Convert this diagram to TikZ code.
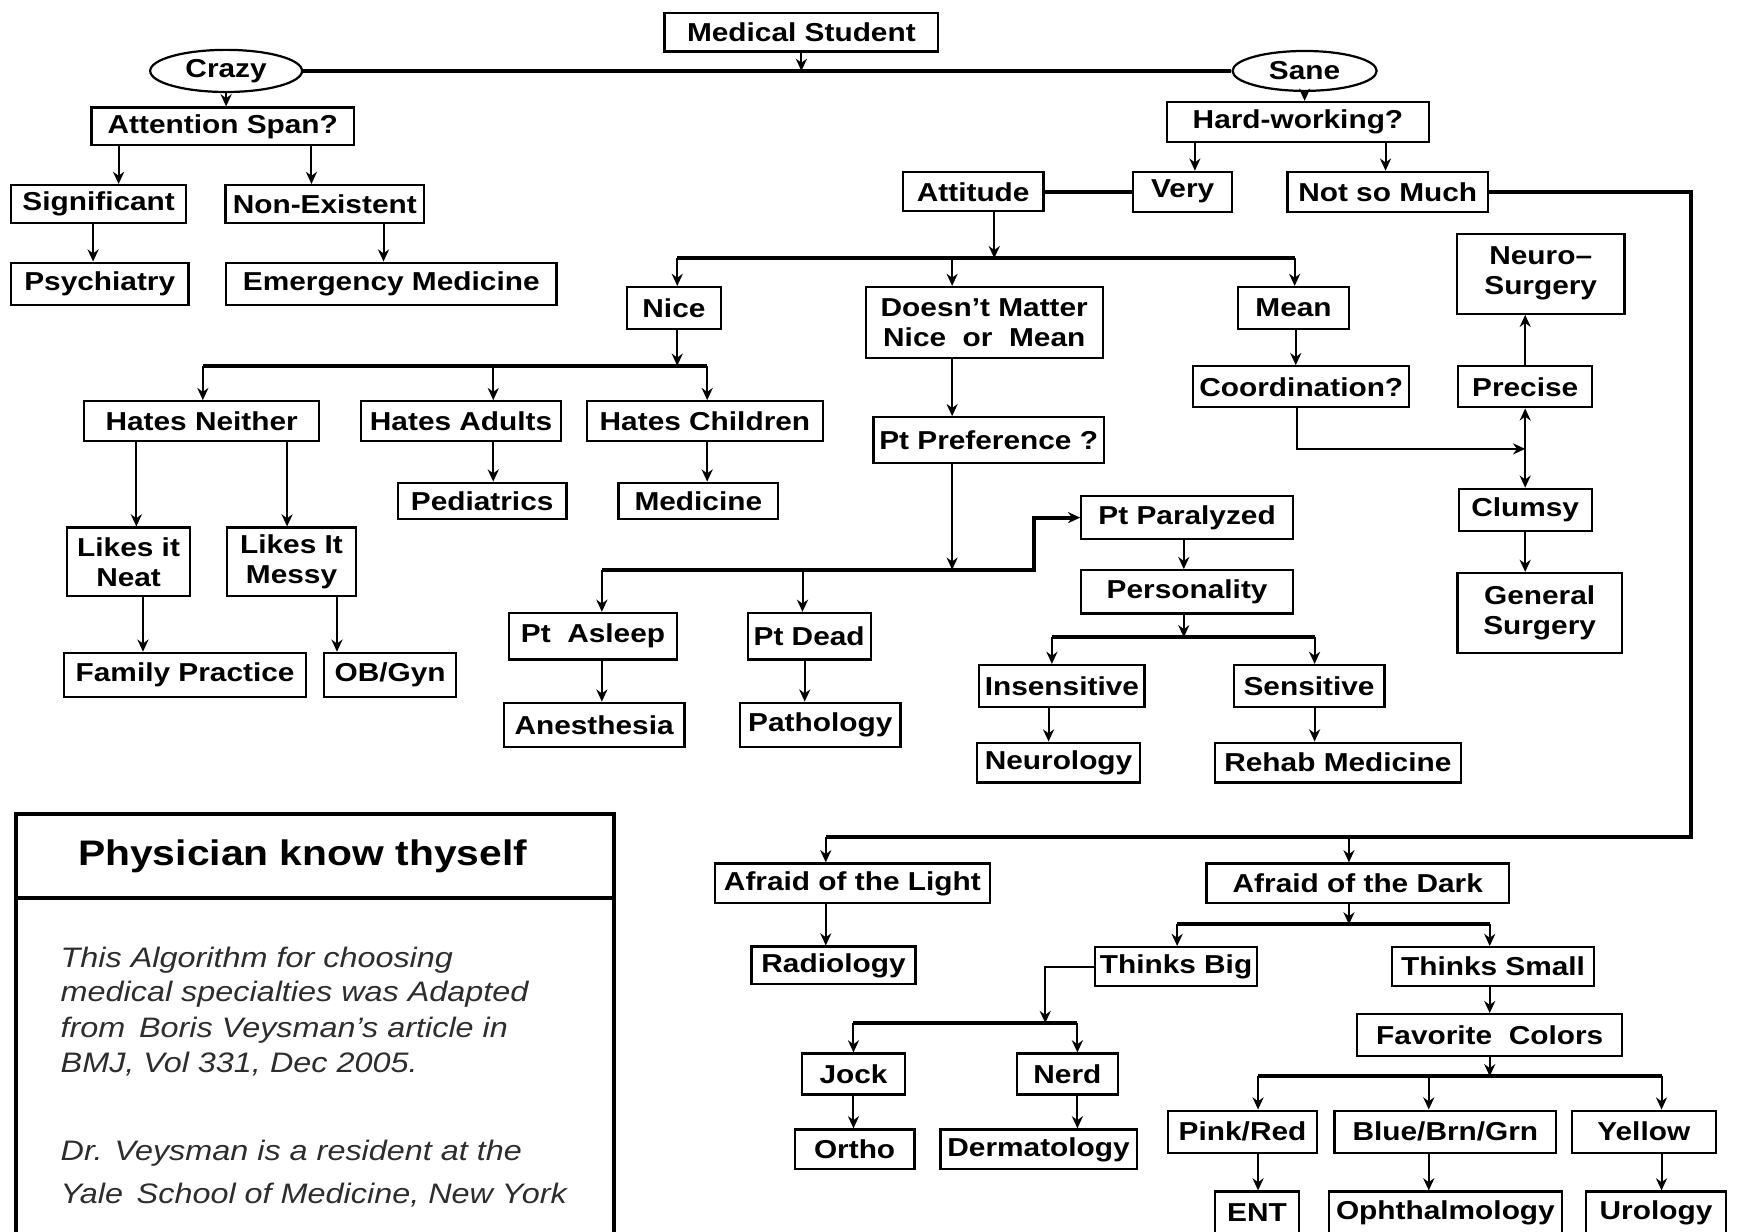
\documentclass[tikz,border=0pt]{standalone}
\usepackage{fontspec}
\setmainfont{Liberation Sans}[FakeStretch=1.15]
\usetikzlibrary{arrows.meta,shapes.geometric}

\definecolor{notegray}{RGB}{45,45,45}

\tikzset{every picture/.style={line width=0.75pt}}
\tikzset{
  box/.style={draw, line width=1pt, inner sep=0pt, align=center,
    font=\fontsize{11.7}{13.5}\selectfont\bfseries},
  oval/.style={box, ellipse},
  wh/.style 2 args={minimum width=#1*0.5pt, minimum height=#2*0.5pt},
  arr/.style={->, line width=0.9pt},
  bus/.style={line width=1.8pt},
  busarr/.style={->, line width=1.8pt},
  note/.style={anchor=west, inner sep=0pt, text=notegray,
    font=\fontsize{12.7}{15}\selectfont\itshape},
}

\begin{document}
\begin{tikzpicture}[x=0.5pt,y=0.5pt,yscale=-1,xscale=1,>={Stealth[length=5.5pt,width=5pt]}]
\useasboundingbox (0,0) rectangle (1568,1111);

%Shape: top
\node[box, wh={247}{35}] (ms) at (723,29) {Medical Student};
\node[oval, wh={137}{38}] (crazy) at (204,64) {Crazy};
\node[oval, wh={130}{36}] (sane) at (1177,64) {Sane};

%Shape: crazy branch
\node[box, wh={237}{34}] (att) at (201,114) {Attention Span?};
\node[box, wh={158}{34}] (sig) at (89,184) {Significant};
\node[box, wh={179}{34}] (nonex) at (293,184) {Non-Existent};
\node[box, wh={160}{38}] (psych) at (90,256) {Psychiatry};
\node[box, wh={298}{38}] (emerg) at (353,256) {Emergency Medicine};

%Shape: sane branch
\node[box, wh={237}{36}] (hard) at (1171,110) {Hard-working?};
\node[box, wh={127}{35}] (attit) at (878,173) {Attitude};
\node[box, wh={89}{36}] (very) at (1067,173) {Very};
\node[box, wh={181}{36}] (notso) at (1252,173) {Not so Much};

%Shape: attitude
\node[box, wh={85}{38}] (nice) at (608,278) {Nice};
\node[box, wh={214}{64}] (dm) at (888,291) {Doesn't Matter\\Nice~~or~~Mean};
\node[box, wh={100}{38}] (mean) at (1167,278) {Mean};

%Shape: mean
\node[box, wh={195}{37}] (coord) at (1174,349) {Coordination?};
\node[box, wh={121}{37}] (precise) at (1376,349) {Precise};
\node[box, wh={151}{72}] (neuro) at (1390,247) {Neuro–\\Surgery};
\node[box, wh={120}{38}] (clumsy) at (1376,460) {Clumsy};
\node[box, wh={148}{72}] (gensurg) at (1389,553) {General\\Surgery};

%Shape: nice
\node[box, wh={212}{36}] (hn) at (182,380) {Hates Neither};
\node[box, wh={180}{36}] (ha) at (416,380) {Hates Adults};
\node[box, wh={213}{36}] (hc) at (636,380) {Hates Children};
\node[box, wh={152}{33}] (ped) at (435,452) {Pediatrics};
\node[box, wh={144}{33}] (med) at (630,452) {Medicine};
\node[box, wh={111}{62}] (neat) at (116,507) {Likes it\\Neat};
\node[box, wh={116}{62}] (messy) at (263,507) {Likes It\\Messy};
\node[box, wh={218}{40}] (fp) at (167,609) {Family Practice};
\node[box, wh={119}{40}] (ob) at (352,609) {OB/Gyn};

%Shape: doesn't matter
\node[box, wh={208}{41}] (ptpref) at (892,397) {Pt Preference ?};
\node[box, wh={151}{42}] (asleep) at (535,574) {Pt~~Asleep};
\node[box, wh={111}{42}] (dead) at (730,574) {Pt Dead};
\node[box, wh={163}{40}] (anest) at (536,654) {Anesthesia};
\node[box, wh={145}{40}] (path) at (740,654) {Pathology};
\node[box, wh={191}{39}] (para) at (1071,467) {Pt Paralyzed};
\node[box, wh={191}{39}] (pers) at (1071,534) {Personality};
\node[box, wh={149}{38}] (insens) at (958,619) {Insensitive};
\node[box, wh={136}{38}] (sens) at (1181,619) {Sensitive};
\node[box, wh={147}{36}] (neurol) at (955,688) {Neurology};
\node[box, wh={222}{36}] (rehab) at (1207,688) {Rehab Medicine};

%Shape: not so much
\node[box, wh={248}{36}] (light) at (769,797) {Afraid of the Light};
\node[box, wh={273}{36}] (dark) at (1225,797) {Afraid of the Dark};
\node[box, wh={148}{34}] (radio) at (752,871) {Radiology};
\node[box, wh={146}{35}] (big) at (1061,872) {Thinks Big};
\node[box, wh={182}{35}] (small) at (1347,872) {Thinks Small};
\node[box, wh={93}{37}] (jock) at (770,969) {Jock};
\node[box, wh={91}{37}] (nerd) at (963,969) {Nerd};
\node[box, wh={108}{36}] (ortho) at (771,1037) {Ortho};
\node[box, wh={177}{36}] (derm) at (937,1037) {Dermatology};
\node[box, wh={239}{38}] (fav) at (1344,934) {Favorite~~Colors};
\node[box, wh={134}{38}] (pink) at (1121,1021) {Pink/Red};
\node[box, wh={200}{38}] (blue) at (1304,1021) {Blue/Brn/Grn};
\node[box, wh={130}{38}] (yellow) at (1483,1021) {Yellow};
\node[box, wh={76}{38}] (ent) at (1134,1094) {ENT};
\node[box, wh={210}{38}] (ophth) at (1304,1094) {Ophthalmology};
\node[box, wh={127}{38}] (uro) at (1494,1094) {Urology};

%Straight Lines: top
\draw[bus] (crazy.east) -- (sane.west);
\draw[arr] (ms.south) -- (ms.south |- crazy.east);
\draw[arr] (crazy.south) -- (crazy.south |- att.north);
\draw[arr] (sane.south) -- (sane.south |- hard.north);

%Straight Lines: crazy branch
\draw[arr] (att.south -| 107,0) -- (sig.north -| 107,0);
\draw[arr] (att.south -| 281,0) -- (nonex.north -| 281,0);
\draw[arr] (sig.south -| 84,0) -- (psych.north -| 84,0);
\draw[arr] (nonex.south -| 346,0) -- (emerg.north -| 346,0);

%Straight Lines: sane branch
\draw[arr] (hard.south -| 1078,0) -- (very.north -| 1078,0);
\draw[arr] (hard.south -| 1250,0) -- (notso.north -| 1250,0);
\draw[bus] (attit.east) -- (very.west);
\draw[arr] (attit.south -| 897,0) -- (897,233);
\draw[bus] (611,233) -- (1168,233);
\draw[arr] (611,233) -- (nice.north -| 611,0);
\draw[arr] (859,233) -- (dm.north -| 859,0);
\draw[arr] (1168,233) -- (mean.north -| 1168,0);

%Straight Lines: mean
\draw[arr] (mean.south -| 1169,0) -- (coord.north -| 1169,0);
\draw[arr] (coord.south -| 1170,0) |- (1376,405);
\draw[<->, line width=0.9pt] (precise.south -| 1376,0) -- (clumsy.north -| 1376,0);
\draw[arr] (precise.north -| 1376,0) -- (neuro.south -| 1376,0);
\draw[arr] (clumsy.south -| 1376,0) -- (gensurg.north -| 1376,0);

%Straight Lines: nice
\draw[arr] (nice.south -| 611,0) -- (611,330);
\draw[bus] (183,330) -- (638,330);
\draw[arr] (183,330) -- (hn.north -| 183,0);
\draw[arr] (445,330) -- (ha.north -| 445,0);
\draw[arr] (638,330) -- (hc.north -| 638,0);
\draw[arr] (ha.south -| 445,0) -- (ped.north -| 445,0);
\draw[arr] (hc.south -| 638,0) -- (med.north -| 638,0);
\draw[arr] (hn.south -| 123,0) -- (neat.north -| 123,0);
\draw[arr] (hn.south -| 259,0) -- (messy.north -| 259,0);
\draw[arr] (neat.south -| 129,0) -- (fp.north -| 129,0);
\draw[arr] (messy.south -| 304,0) -- (ob.north -| 304,0);

%Straight Lines: doesn't matter
\draw[arr] (dm.south -| 859,0) -- (ptpref.north -| 859,0);
\draw[arr] (ptpref.south -| 859,0) -- (859,514);
\draw[busarr] (543,514) -- (933,514) |- (para.west);
\draw[arr] (543,514) -- (asleep.north -| 543,0);
\draw[arr] (724,514) -- (dead.north -| 724,0);
\draw[arr] (asleep.south -| 543,0) -- (anest.north -| 543,0);
\draw[arr] (dead.south -| 726,0) -- (path.north -| 726,0);
\draw[arr] (para.south -| 1068,0) -- (pers.north -| 1068,0);
\draw[arr] (pers.south -| 1068,0) -- (1068,575);
\draw[bus] (949,575) -- (1186,575);
\draw[arr] (949,575) -- (insens.north -| 949,0);
\draw[arr] (1186,575) -- (sens.north -| 1186,0);
\draw[arr] (insens.south -| 946,0) -- (neurol.north -| 946,0);
\draw[arr] (sens.south -| 1186,0) -- (rehab.north -| 1186,0);

%Straight Lines: not so much
\draw[bus] (notso.east) -| (1526,755) -- (745,755);
\draw[arr] (745,755) -- (light.north -| 745,0);
\draw[arr] (1217,755) -- (dark.north -| 1217,0);
\draw[arr] (light.south -| 745,0) -- (radio.north -| 745,0);
\draw[arr] (dark.south -| 1217,0) -- (1217,834);
\draw[bus] (1062,834) -- (1344,834);
\draw[arr] (1062,834) -- (big.north -| 1062,0);
\draw[arr] (1344,834) -- (small.north -| 1344,0);
\draw[arr] (big.west) -| (943,923);
\draw[bus] (770,923) -- (972,923);
\draw[arr] (770,923) -- (jock.north -| 770,0);
\draw[arr] (972,923) -- (nerd.north -| 972,0);
\draw[arr] (jock.south -| 770,0) -- (ortho.north -| 770,0);
\draw[arr] (nerd.south -| 972,0) -- (derm.north -| 972,0);
\draw[arr] (small.south -| 1344,0) -- (fav.north -| 1344,0);
\draw[arr] (fav.south -| 1344,0) -- (1344,971);
\draw[bus] (1135,971) -- (1499,971);
\draw[arr] (1135,971) -- (pink.north -| 1135,0);
\draw[arr] (1289,971) -- (blue.north -| 1289,0);
\draw[arr] (1499,971) -- (yellow.north -| 1499,0);
\draw[arr] (pink.south -| 1135,0) -- (ent.north -| 1135,0);
\draw[arr] (blue.south -| 1289,0) -- (ophth.north -| 1289,0);
\draw[arr] (yellow.south -| 1499,0) -- (uro.north -| 1499,0);

%Shape: note box
\draw[line width=1.8pt] (14,1140) -- (14,734) -- (554,734) -- (554,1140);
\draw[line width=1.8pt] (14,810) -- (554,810);

% Text Node
\node[font=\fontsize{16}{19}\selectfont\bfseries] (title) at (273,773) {Physician know thyself};
\node[note] (n1) at (54,866) {This Algorithm for choosing};
\node[note] (n2) at (54,897) {medical specialties was Adapted};
\node[note] (n3) at (54,929) {from\, Boris Veysman's article in};
\node[note] (n4) at (54,960) {BMJ, Vol 331, Dec 2005.};
\node[note] (n5) at (54,1040) {Dr. Veysman is a resident at the};
\node[note] (n6) at (54,1078) {Yale\, School of Medicine, New York};

\end{tikzpicture}
\end{document}
